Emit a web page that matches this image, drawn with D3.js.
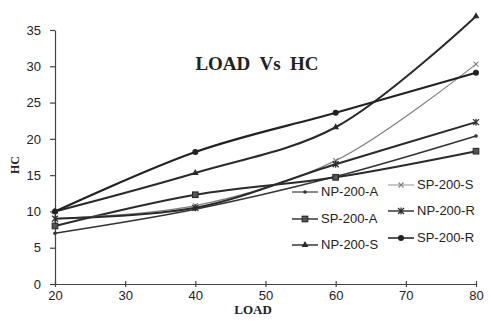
<!DOCTYPE html>
<html>
<head>
<meta charset="utf-8">
<script src="https://d3js.org/d3.v7.min.js"></script>
<style>
  body { margin: 0; background: #fff; }
  svg text { fill: #222; }
</style>
</head>
<body>
<svg width="491" height="321"></svg>
<script>
// values
var loads = [20, 40, 60, 80];
var npA = [7, 10.3, 14.8, 20.4];
var spA = [8, 12.3, 14.7, 18.3];
var npS = [10, 15.3, 21.6, 36.9];
var spS = [9, 10.8, 17, 30.3];
var npR = [9, 10.5, 16.5, 22.3];
var spR = [10, 18.2, 23.6, 29.1];
var xTicks = [20, 30, 40, 50, 60, 70, 80];
var yTicks = [0, 5, 10, 15, 20, 25, 30, 35];

var series = [
  {name: "NP-200-A", vals: npA, mark: "dot",      col: "#333", w: 1.6},
  {name: "SP-200-A", vals: spA, mark: "square",   col: "#2a2a2a", w: 2},
  {name: "NP-200-S", vals: npS, mark: "triangle", col: "#2a2a2a", w: 2},
  {name: "SP-200-S", vals: spS, mark: "cross",    col: "#808080", w: 1.2},
  {name: "NP-200-R", vals: npR, mark: "star",     col: "#2a2a2a", w: 2},
  {name: "SP-200-R", vals: spR, mark: "circle",   col: "#222", w: 2.2}
];

var svg = d3.select("svg");
var x = d3.scaleLinear().domain([20, 80]).range([55, 476]);
var y = d3.scaleLinear().domain([0, 35]).range([284, 30]);

// axes
var xa = svg.append("g").attr("transform", "translate(0,284)")
  .call(d3.axisBottom(x).tickValues(xTicks).tickSize(4).tickSizeOuter(0).tickPadding(3));
var ya = svg.append("g").attr("transform", "translate(55,0)")
  .call(d3.axisLeft(y).tickValues(yTicks).tickSize(5).tickSizeOuter(0).tickPadding(9));
[xa, ya].forEach(function(g) {
  g.selectAll("path, line").attr("stroke", "#444").attr("stroke-width", 1.2);
  g.selectAll("text").style("font-family", "Liberation Sans").style("font-size", "13px").attr("fill", "#222");
});
xa.selectAll(".tick line").attr("y1", -3).attr("y2", 3);

function marker(g, type, cx, cy, col) {
  if (type == "dot") {
    g.append("circle").attr("cx", cx).attr("cy", cy).attr("r", 1.8).attr("fill", col);
  } else if (type == "circle") {
    g.append("circle").attr("cx", cx).attr("cy", cy).attr("r", 3).attr("fill", col);
  } else if (type == "square") {
    g.append("rect").attr("x", cx - 2.8).attr("y", cy - 2.8).attr("width", 5.6).attr("height", 5.6)
      .attr("fill", "#555").attr("stroke", col).attr("stroke-width", 1.1);
  } else if (type == "triangle") {
    g.append("path").attr("d", d3.symbol(d3.symbolTriangle, 20)()).attr("transform", "translate(" + cx + "," + cy + ")").attr("fill", col);
  } else if (type == "cross") {
    g.append("path").attr("d", "M" + (cx - 2.5) + "," + (cy - 2.5) + "L" + (cx + 2.5) + "," + (cy + 2.5) + "M" + (cx - 2.5) + "," + (cy + 2.5) + "L" + (cx + 2.5) + "," + (cy - 2.5))
      .attr("stroke", col).attr("stroke-width", 1.1);
  } else if (type == "star") {
    g.append("path").attr("d", "M" + (cx - 3) + "," + (cy - 3) + "L" + (cx + 3) + "," + (cy + 3) + "M" + (cx - 3) + "," + (cy + 3) + "L" + (cx + 3) + "," + (cy - 3) + "M" + cx + "," + (cy - 3.5) + "L" + cx + "," + (cy + 3.5))
      .attr("stroke", col).attr("stroke-width", 1.2);
  }
}

var line = d3.line().x(function(d, i) { return x(loads[i]); }).y(function(d) { return y(d); })
  .curve(d3.curveCatmullRom.alpha(0.5));

series.forEach(function(s) {
  svg.append("path").attr("d", line(s.vals)).attr("fill", "none")
    .attr("stroke", s.col).attr("stroke-width", s.w);
  var g = svg.append("g");
  s.vals.forEach(function(v, i) { marker(g, s.mark, x(loads[i]), y(v), s.col); });
});

// legend: two columns
var legPos = [[292, 196], [292, 223], [292, 249], [388, 189], [388, 215], [388, 242]];
series.forEach(function(s, i) {
  var px = legPos[i][0], py = legPos[i][1];
  svg.append("line").attr("x1", px).attr("x2", px + 26).attr("y1", py - 4).attr("y2", py - 4)
    .attr("stroke", s.col).attr("stroke-width", s.w * 0.7);
  marker(svg, s.mark, px + 13, py - 4, s.col);
  svg.append("text").text(s.name).attr("x", px + 29).attr("y", py)
    .style("font-family", "Liberation Sans").style("font-size", "13px");
});

// titles
svg.append("text").text("LOAD  Vs  HC").attr("x", 257).attr("y", 70).attr("text-anchor", "middle")
  .style("font-family", "Liberation Serif").style("font-weight", "bold").style("font-size", "19px")
  .style("white-space", "pre");
svg.append("text").text("LOAD").attr("x", 253).attr("y", 314).attr("text-anchor", "middle")
  .style("font-family", "Liberation Serif").style("font-weight", "bold").style("font-size", "13px");
svg.append("text").text("HC").attr("transform", "translate(19,165) rotate(-90)").attr("text-anchor", "middle")
  .style("font-family", "Liberation Serif").style("font-weight", "bold").style("font-size", "12px");
</script>
</body>
</html>
